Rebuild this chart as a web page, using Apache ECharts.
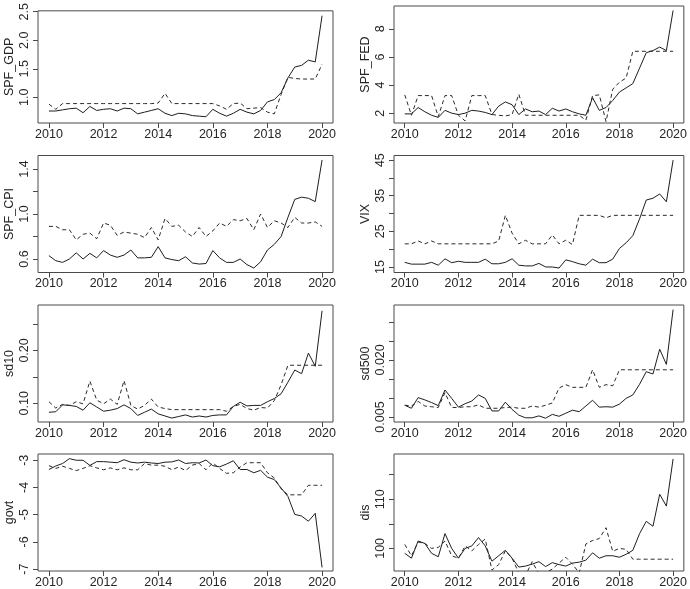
<!DOCTYPE html>
<html>
<head>
<meta charset="utf-8">
<script src="https://cdn.jsdelivr.net/npm/echarts@6/dist/echarts.min.js"></script>
<style>
html,body{margin:0;padding:0;background:#fff;}
#c{width:690px;height:589px;}
</style>
</head>
<body>
<div id="c"></div>
<script>
// Quarterly observations 2010Q1 .. 2020Q1 (41 points)
const startYear = 2010;
const nObs = 41;
const xTicks = [2010, 2012, 2014, 2016, 2018, 2020];

const panelNames = ['SPF_GDP', 'SPF_FED', 'SPF_CPI', 'VIX', 'sd10', 'sd500', 'govt', 'dis'];

const gdpSolid = [0.76,0.76,0.78,0.80,0.81,0.73,0.84,0.77,0.79,0.80,0.76,0.81,0.80,0.71,0.74,0.77,0.80,0.72,0.68,0.72,0.71,0.68,0.67,0.66,0.79,0.72,0.67,0.72,0.79,0.74,0.71,0.77,0.92,0.96,1.08,1.34,1.53,1.56,1.65,1.62,2.43];
const gdpDash  = [0.88,0.79,0.89,0.89,0.89,0.89,0.89,0.89,0.89,0.89,0.89,0.89,0.89,0.89,0.89,0.89,0.90,1.07,0.89,0.89,0.89,0.89,0.89,0.89,0.89,0.85,0.79,0.89,0.90,0.80,0.81,0.82,0.74,0.71,1.05,1.35,1.33,1.32,1.32,1.32,1.58];

const fedSolid = [1.95,1.95,2.4,2.1,1.85,1.7,2.2,2.0,1.9,2.0,2.2,2.15,2.05,1.9,2.5,2.8,2.6,1.9,2.3,2.1,2.15,1.9,2.35,2.15,2.3,2.1,1.95,1.85,3.1,2.2,2.4,2.9,3.5,3.8,4.1,5.2,6.3,6.45,6.7,6.45,9.3];
const fedDash  = [3.3,1.85,3.25,3.25,3.25,1.75,3.25,3.25,1.85,1.45,3.25,3.25,3.25,1.9,1.85,1.8,1.9,3.35,1.85,1.85,1.85,1.85,1.85,1.85,1.85,1.85,1.85,1.5,3.25,3.3,1.4,3.7,4.2,4.5,6.4,6.4,6.4,6.4,6.4,6.4,6.4];

const cpiSolid = [0.63,0.585,0.57,0.60,0.655,0.60,0.65,0.61,0.675,0.635,0.615,0.635,0.68,0.61,0.61,0.615,0.71,0.61,0.595,0.585,0.62,0.565,0.555,0.56,0.675,0.61,0.57,0.57,0.60,0.55,0.52,0.575,0.68,0.73,0.80,0.97,1.13,1.15,1.14,1.11,1.48];
const cpiDash  = [0.89,0.89,0.86,0.86,0.77,0.82,0.83,0.78,0.92,0.90,0.81,0.84,0.83,0.82,0.79,0.88,0.77,0.96,0.89,0.90,0.84,0.80,0.88,0.80,0.85,0.92,0.89,0.95,0.94,0.96,0.86,1.00,0.88,0.94,0.92,0.88,0.97,0.92,0.92,0.93,0.89];

const vixSolid = [16.3,15.8,15.8,15.8,16.3,15.5,17.3,16.2,16.6,16.3,16.3,16.3,17.2,15.9,15.9,16.3,17.3,15.5,15.3,15.3,16.0,15.0,15.0,14.7,17.0,16.5,15.9,15.5,17.2,16.2,16.2,17.2,20.2,21.8,23.8,28.5,33.8,34.3,35.5,33.3,45.0];
const vixDash  = [21.5,21.5,22.3,21.5,22.3,21.5,21.5,21.5,21.5,21.5,21.5,21.5,21.5,21.5,22.3,29.5,24.5,21.5,22.5,21.5,21.5,21.5,24.0,21.5,22.5,21.3,29.5,29.5,29.5,29.5,28.8,29.5,29.5,29.5,29.5,29.5,29.5,29.5,29.5,29.5,29.5];

const sd10Solid = [0.083,0.084,0.097,0.096,0.094,0.087,0.101,0.093,0.085,0.087,0.090,0.097,0.090,0.077,0.083,0.089,0.080,0.076,0.072,0.075,0.078,0.074,0.076,0.074,0.077,0.078,0.078,0.094,0.102,0.095,0.096,0.096,0.103,0.109,0.118,0.140,0.163,0.156,0.195,0.170,0.275];
const sd10Dash  = [0.103,0.091,0.098,0.096,0.103,0.099,0.142,0.106,0.099,0.108,0.098,0.143,0.096,0.089,0.096,0.108,0.093,0.090,0.088,0.088,0.088,0.088,0.088,0.088,0.088,0.088,0.085,0.094,0.098,0.090,0.087,0.092,0.091,0.105,0.135,0.172,0.172,0.172,0.172,0.172,0.172];

const sd500Solid = [0.0081,0.0073,0.0101,0.0095,0.0088,0.0080,0.0121,0.0099,0.0076,0.0085,0.0092,0.0108,0.0099,0.0066,0.0066,0.0089,0.0070,0.0055,0.0048,0.0048,0.0053,0.0047,0.0057,0.0052,0.0060,0.0068,0.0064,0.0079,0.0094,0.0076,0.0077,0.0076,0.0084,0.0099,0.0108,0.0136,0.0169,0.0163,0.0228,0.0188,0.0332];
const sd500Dash  = [0.0081,0.0079,0.0091,0.0079,0.0077,0.0075,0.0114,0.0075,0.0075,0.0077,0.0077,0.0082,0.0073,0.0073,0.0073,0.0075,0.0076,0.0073,0.0073,0.0079,0.0076,0.0081,0.0087,0.0126,0.0135,0.0128,0.0128,0.0128,0.0174,0.0128,0.0135,0.0132,0.0174,0.0174,0.0174,0.0174,0.0174,0.0174,0.0174,0.0174,0.0174];

const govtSolid = [-3.34,-3.21,-3.12,-2.94,-3.0,-3.0,-3.19,-3.05,-3.05,-3.07,-3.09,-2.98,-3.07,-3.10,-3.07,-3.10,-3.12,-3.07,-3.06,-2.99,-3.12,-3.09,-3.10,-2.99,-3.20,-3.24,-3.14,-3.02,-3.34,-3.34,-3.46,-3.37,-3.62,-3.71,-4.02,-4.33,-4.99,-5.05,-5.24,-4.95,-6.94];
const govtDash  = [-3.20,-3.30,-3.22,-3.30,-3.38,-3.30,-3.20,-3.28,-3.35,-3.28,-3.35,-3.28,-3.35,-3.35,-3.12,-3.18,-3.18,-3.22,-3.35,-3.25,-3.38,-3.18,-3.12,-3.35,-3.10,-3.30,-3.48,-3.46,-3.25,-3.09,-3.09,-3.09,-3.46,-3.65,-4.05,-4.27,-4.27,-4.27,-3.92,-3.92,-3.92];

const disSolid = [99.0,98.0,101.5,101.0,99.0,98.3,103.0,100.0,98.0,100.0,100.5,102.2,100.5,97.4,98.5,99.6,98.0,96.2,96.4,96.8,97.3,96.3,97.1,96.7,96.4,97.0,97.2,97.6,99.1,98.0,98.5,98.5,98.2,98.8,99.6,103.0,105.5,104.5,111.0,108.6,118.2];
const disDash  = [100.8,98.5,101.3,101.0,100.0,100.2,101.5,98.5,98.0,100.5,99.5,100.8,101.9,95.6,96.7,99.5,98.0,95.0,94.5,97.3,94.8,95.0,95.8,97.0,98.2,96.8,95.0,100.9,101.6,102.0,104.2,99.4,100.0,99.8,97.8,97.8,97.8,97.8,97.8,97.8,97.8];

// y-axis ticks and labels per panel
const yTicks = [
  [1.0, 1.5, 2.0, 2.5],
  [2, 4, 6, 8],
  [0.6, 0.8, 1.0, 1.2, 1.4],
  [15, 20, 25, 30, 35, 40, 45],
  [0.10, 0.15, 0.20, 0.25],
  [0.005, 0.010, 0.015, 0.020, 0.025, 0.030],
  [-3, -4, -5, -6, -7],
  [100, 105, 110, 115]
];
const yLabelValues = [
  [1.0, 1.5, 2.0, 2.5],
  [2, 4, 6, 8],
  [0.6, 1.0, 1.4],
  [15, 25, 35, 45],
  [0.10, 0.20],
  [0.005, 0.020],
  [-3, -4, -5, -6, -7],
  [100, 110]
];
const yLabelText = [
  ['1.0', '1.5', '2.0', '2.5'],
  ['2', '4', '6', '8'],
  ['0.6', '1.0', '1.4'],
  ['15', '25', '35', '45'],
  ['0.10', '0.20'],
  ['0.005', '0.020'],
  ['-3', '-4', '-5', '-6', '-7'],
  ['100', '110']
];
const yRanges = [
  [0.55, 2.515],
  [1.3, 9.62],
  [0.48, 1.52],
  [13.45, 46.3],
  [0.0646, 0.286],
  [0.0037, 0.0344],
  [-7.07, -2.77],
  [95.4, 119.2]
];

const solidSeries = [gdpSolid, fedSolid, cpiSolid, vixSolid, sd10Solid, sd500Solid, govtSolid, disSolid];
const dashSeries  = [gdpDash, fedDash, cpiDash, vixDash, sd10Dash, sd500Dash, govtDash, disDash];

const chart = echarts.init(document.getElementById('c'), null, {renderer: 'canvas'});

const FONT = "'Liberation Sans', Arial, sans-serif";
const TEXT = '#262626';
const FRAME = '#4a4a4a';
const colLeft = [38, 394];
const rowTop = [6, 155.5, 305, 454];
const boxW = 295, boxH = 117;

function toPairs(vals) {
  return vals.map((v, i) => [startYear + i / 4, v]);
}

const grids = [], xAxes = [], yAxes = [], series = [];
for (let p = 0; p < 8; p++) {
  const col = p % 2, row = Math.floor(p / 2);
  grids.push({
    left: colLeft[col], top: rowTop[row], width: boxW, height: boxH,
    show: true, borderColor: FRAME, borderWidth: 1, backgroundColor: 'transparent'
  });
  xAxes.push({
    type: 'value', gridIndex: p, min: 2009.6, max: 2020.4,
    axisLine: {show: false},
    splitLine: {show: false},
    axisTick: {show: true, length: 5, customValues: xTicks, lineStyle: {color: FRAME, width: 1}},
    axisLabel: {
      customValues: xTicks, color: TEXT, fontSize: 12.5, fontFamily: FONT, margin: 5,
      formatter: function (v) { return String(Math.round(v)); }
    }
  });
  const lv = yLabelValues[p], lt = yLabelText[p];
  yAxes.push({
    type: 'value', gridIndex: p, min: yRanges[p][0], max: yRanges[p][1],
    name: panelNames[p], nameLocation: 'middle', nameRotate: 90, nameGap: 22,
    nameTextStyle: {color: TEXT, fontSize: 12.5, fontFamily: FONT},
    axisLine: {show: false},
    splitLine: {show: false},
    axisTick: {show: true, length: 5, customValues: yTicks[p], lineStyle: {color: FRAME, width: 1}},
    axisLabel: {
      customValues: lv, rotate: 90, color: TEXT, fontSize: 12.5, fontFamily: FONT, margin: 7,
      formatter: function (v) {
        for (let k = 0; k < lv.length; k++) { if (Math.abs(lv[k] - v) < 1e-9) return lt[k]; }
        return '';
      }
    }
  });
  series.push({
    type: 'line', xAxisIndex: p, yAxisIndex: p, data: toPairs(solidSeries[p]),
    showSymbol: false, symbol: 'none', silent: true, animation: false, clip: true,
    lineStyle: {color: '#1e1e1e', width: 1, type: 'solid'}
  });
  series.push({
    type: 'line', xAxisIndex: p, yAxisIndex: p, data: toPairs(dashSeries[p]),
    showSymbol: false, symbol: 'none', silent: true, animation: false, clip: true,
    lineStyle: {color: '#2a2a2a', width: 1, type: [4, 3]}
  });
}

chart.setOption({
  animation: false,
  backgroundColor: '#ffffff',
  grid: grids,
  xAxis: xAxes,
  yAxis: yAxes,
  series: series
});
</script>
</body>
</html>
